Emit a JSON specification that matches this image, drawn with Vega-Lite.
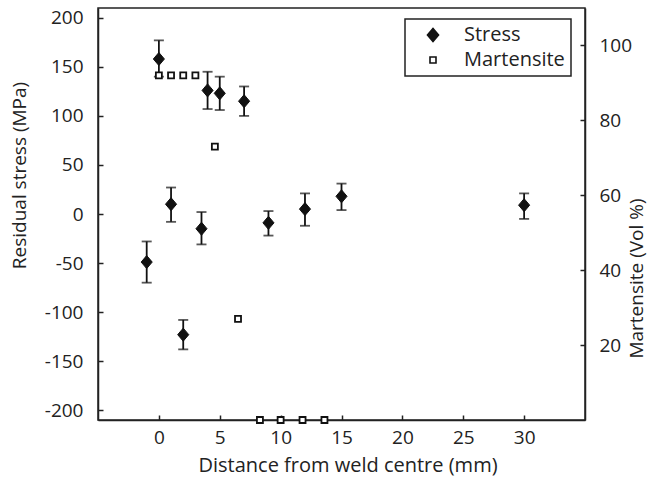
{
  "$schema": "https://vega.github.io/schema/vega-lite/v6.json",
  "width": 487,
  "height": 412,
  "autosize": {"type": "none"},
  "padding": {"left": 98, "top": 8, "right": 72, "bottom": 59},
  "background": "white",
  "config": {
    "view": {"stroke": "#222", "strokeWidth": 1.5},
    "font": "Open Sans",
    "axis": {
      "grid": false,
      "domainColor": "#222",
      "domainWidth": 1.5,
      "tickColor": "#222",
      "tickWidth": 1.5,
      "tickSize": -5,
      "labelFont": "Open Sans",
      "labelFontSize": 19,
      "labelColor": "#222",
      "titleFont": "Open Sans",
      "titleFontSize": 19,
      "titleFontWeight": "normal",
      "titleColor": "#222"
    },
    "legend": {
      "title": null,
      "orient": "none",
      "legendX": 307,
      "legendY": 11,
      "strokeColor": "#222",
      "strokeWidth": 1.5,
      "fillColor": "white",
      "padding": 6,
      "rowPadding": 5,
      "symbolOffset": 12,
      "labelOffset": 21,
      "labelFont": "Open Sans",
      "labelFontSize": 20,
      "labelColor": "#222",
      "symbolStrokeWidth": 1.6
    }
  },
  "datasets": {
    "stress": [
      {"distance": -1, "stress": -49, "lo": -70, "hi": -28, "series": "Stress"},
      {"distance": 0, "stress": 158, "lo": 140, "hi": 177, "series": "Stress"},
      {"distance": 1, "stress": 10, "lo": -8, "hi": 27, "series": "Stress"},
      {"distance": 2, "stress": -123, "lo": -138, "hi": -108, "series": "Stress"},
      {"distance": 3.5, "stress": -15, "lo": -31, "hi": 2, "series": "Stress"},
      {"distance": 4, "stress": 126, "lo": 107, "hi": 145, "series": "Stress"},
      {"distance": 5, "stress": 123, "lo": 106, "hi": 140, "series": "Stress"},
      {"distance": 7, "stress": 115, "lo": 100, "hi": 130, "series": "Stress"},
      {"distance": 9, "stress": -9, "lo": -22, "hi": 3, "series": "Stress"},
      {"distance": 12, "stress": 5, "lo": -12, "hi": 21, "series": "Stress"},
      {"distance": 15, "stress": 18, "lo": 4, "hi": 31, "series": "Stress"},
      {"distance": 30, "stress": 9, "lo": -5, "hi": 21, "series": "Stress"}
    ],
    "martensite": [
      {"distance": 0, "martensite": 92, "series": "Martensite"},
      {"distance": 1, "martensite": 92, "series": "Martensite"},
      {"distance": 2, "martensite": 92, "series": "Martensite"},
      {"distance": 3, "martensite": 92, "series": "Martensite"},
      {"distance": 4.6, "martensite": 73, "series": "Martensite"},
      {"distance": 6.5, "martensite": 27, "series": "Martensite"},
      {"distance": 8.3, "martensite": 0, "series": "Martensite"},
      {"distance": 10, "martensite": 0, "series": "Martensite"},
      {"distance": 11.8, "martensite": 0, "series": "Martensite"},
      {"distance": 13.6, "martensite": 0, "series": "Martensite"}
    ]
  },
  "encoding": {
    "x": {
      "field": "distance",
      "type": "quantitative",
      "scale": {"domain": [-5, 35], "nice": false, "zero": false},
      "axis": {
        "values": [0, 5, 10, 15, 20, 25, 30],
        "labelPadding": 13,
        "title": "Distance from weld centre (mm)",
        "titleFontSize": 20,
        "titleX": 249.5,
        "titleY": 51,
        "titleBaseline": "alphabetic",
        "titleAlign": "center"
      }
    }
  },
  "layer": [
    {
      "data": {"name": "stress"},
      "layer": [
        {
          "mark": {
            "type": "errorbar",
            "ticks": {"size": 10, "thickness": 1.8, "color": "#111"},
            "rule": {"strokeWidth": 1.8, "color": "#111"}
          },
          "encoding": {
            "y": {
              "field": "lo",
              "type": "quantitative",
              "scale": {"domain": [-210, 210], "nice": false, "zero": false},
              "axis": {
                "values": [-200, -150, -100, -50, 0, 50, 100, 150, 200],
                "labelExpr": "(datum.value < 0 ? '-' : '') + abs(datum.value)",
                "labelPadding": 20,
                "title": "Residual stress (MPa)",
                "titleAngle": -90,
                "titleX": -73,
                "titleY": 167,
                "titleBaseline": "alphabetic",
                "titleAlign": "center"
              }
            },
            "y2": {"field": "hi"}
          }
        },
        {
          "mark": {"type": "point", "strokeWidth": 1, "opacity": 1},
          "encoding": {
            "y": {
              "field": "stress",
              "type": "quantitative",
              "scale": {"domain": [-210, 210], "nice": false, "zero": false},
              "axis": {
                "values": [-200, -150, -100, -50, 0, 50, 100, 150, 200],
                "labelExpr": "(datum.value < 0 ? '-' : '') + abs(datum.value)",
                "labelPadding": 20,
                "title": "Residual stress (MPa)",
                "titleAngle": -90,
                "titleX": -73,
                "titleY": 167,
                "titleBaseline": "alphabetic",
                "titleAlign": "center"
              }
            },
            "shape": {
              "field": "series",
              "type": "nominal",
              "scale": {"domain": ["Stress", "Martensite"], "range": ["M-0.85,0L0,-1L0.85,0L0,1Z", "square"]}
            },
            "fill": {
              "field": "series",
              "type": "nominal",
              "scale": {"domain": ["Stress", "Martensite"], "range": ["#111", "white"]}
            },
            "stroke": {
              "field": "series",
              "type": "nominal",
              "scale": {"domain": ["Stress", "Martensite"], "range": ["#111", "#111"]}
            },
            "size": {
              "field": "series",
              "type": "nominal",
              "scale": {"domain": ["Stress", "Martensite"], "range": [170, 36]}
            }
          }
        }
      ]
    },
    {
      "data": {"name": "martensite"},
      "mark": {"type": "point", "strokeWidth": 1.8, "opacity": 1},
      "encoding": {
        "y": {
          "field": "martensite",
          "type": "quantitative",
          "scale": {"domain": [0, 110], "nice": false, "zero": false},
          "axis": {
            "orient": "right",
            "values": [20, 40, 60, 80, 100],
            "labelPadding": 19,
            "title": "Martensite (Vol %)",
            "titleAngle": -90,
            "titleX": 57,
            "titleY": 270,
            "titleBaseline": "alphabetic",
            "titleAlign": "center"
          }
        },
        "shape": {"field": "series", "type": "nominal"},
        "fill": {"field": "series", "type": "nominal"},
        "stroke": {"field": "series", "type": "nominal"},
        "size": {"field": "series", "type": "nominal"}
      }
    }
  ],
  "resolve": {"scale": {"y": "independent"}}
}
